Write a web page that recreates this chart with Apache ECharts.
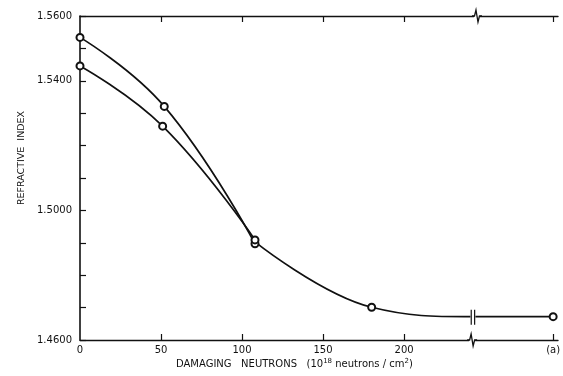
<!DOCTYPE html>
<html>
<head>
<meta charset="utf-8">
<script src="https://cdn.jsdelivr.net/npm/echarts@6/dist/echarts.min.js"></script>
<style>html,body{margin:0;padding:0;background:#fff}#c{width:563px;height:376px}</style>
</head>
<body>
<div id="c"></div>
<script>
// ---- data ----
const upperX = [0, 52, 108];
const upperY = [1.5534, 1.5321, 1.4897];
const lowerX = [0, 51, 108];
const lowerY = [1.5446, 1.5260, 1.4909];
const tailX = [108, 180, 242.5, 292];
const tailY = [1.4903, 1.4701, 1.4672, 1.4672];
const tailMarker = [false, true, false, true];
const xTickValues = [50, 100, 150, 200, 292];
const xLabelValues = [0, 50, 100, 150, 200, 292];
const xLabelText = ['0', '50', '100', '150', '200', '(a)'];
const yTickValues = [1.46, 1.47, 1.48, 1.49, 1.50, 1.51, 1.52, 1.53, 1.54, 1.55, 1.56];
const yLabelValues = [1.46, 1.50, 1.54, 1.56];
// break markers: [x, y, kind]  kind 0 = bottom axis, 1 = top axis, 2 = curve
const breakMarks = [[242, 1.46, 0], [245, 1.56, 1], [242.5, 1.4672, 2]];

const INK = '#111';
const FONT = 'DejaVu Sans';

function pairs(xs, ys) { return xs.map((x, i) => [x, ys[i]]); }

const chart = echarts.init(document.getElementById('c'), null, {renderer: 'canvas'});
const axisCommon = {
  type: 'value', min: 0, max: 295,
  splitLine: {show: false}
};
chart.setOption({
  animation: false,
  backgroundColor: '#fff',
  grid: {left: 80, right: 5, top: 16, bottom: 36, outerBoundsMode: 'none'},
  title: {
    left: 176, top: 358, padding: 0,
    text: '{a|DAMAGING   NEUTRONS   (10}{s|18}{a| neutrons / cm}{s|2}{a|)}',
    textStyle: {
      fontWeight: 'normal',
      rich: {
        a: {fontFamily: FONT, fontSize: 10, fontWeight: 'normal', color: INK},
        s: {fontFamily: FONT, fontSize: 7, fontWeight: 'normal', color: INK, verticalAlign: 'top', padding: [0, 0, 6, 0]}
      }
    }
  },
  graphic: [{
    type: 'text', x: 22, y: 158, rotation: Math.PI / 2,
    style: {text: 'REFRACTIVE  INDEX', font: '9.5px "DejaVu Sans"', fill: INK,
            align: 'center', verticalAlign: 'middle'}
  }],
  xAxis: [
    Object.assign({}, axisCommon, {
      position: 'bottom',
      axisLine: {lineStyle: {color: INK, width: 1.4}},
      axisTick: {inside: true, length: 6, customValues: xTickValues, lineStyle: {color: INK, width: 1.2}},
      axisLabel: {customValues: xLabelValues, margin: 5, fontFamily: FONT, fontSize: 10, color: INK,
                  formatter: v => xLabelText[xLabelValues.indexOf(v)] ?? ''}
    }),
    Object.assign({}, axisCommon, {
      position: 'top',
      axisLine: {lineStyle: {color: INK, width: 1.4}},
      axisTick: {inside: true, length: 6, customValues: xTickValues, lineStyle: {color: INK, width: 1.2}},
      axisLabel: {show: false}
    })
  ],
  yAxis: {
    type: 'value', min: 1.46, max: 1.56,
    splitLine: {show: false},
    axisLine: {show: true, lineStyle: {color: INK, width: 1.6}},
    axisTick: {inside: true, length: 6, customValues: yTickValues, lineStyle: {color: INK, width: 1.2}},
    axisLabel: {customValues: yLabelValues, margin: 8, fontFamily: FONT, fontSize: 10, color: INK,
                formatter: v => v.toFixed(4)}
  },
  series: [
    {
      type: 'line', smooth: 0.45, data: pairs(upperX, upperY),
      symbol: 'emptyCircle', symbolSize: 7, showAllSymbol: true,
      lineStyle: {color: INK, width: 1.7}, itemStyle: {color: INK, borderWidth: 1.2}, z: 3
    },
    {
      type: 'line', smooth: 0.45, data: pairs(lowerX, lowerY),
      symbol: 'emptyCircle', symbolSize: 7, showAllSymbol: true,
      lineStyle: {color: INK, width: 1.7}, itemStyle: {color: INK, borderWidth: 1.2}, z: 3
    },
    {
      type: 'line', smooth: 0.4,
      data: tailX.map((x, i) => ({value: [x, tailY[i]], symbol: tailMarker[i] ? 'emptyCircle' : 'none'})),
      symbolSize: 7, showAllSymbol: true,
      lineStyle: {color: INK, width: 1.7}, itemStyle: {color: INK, borderWidth: 1.2}, z: 2
    },
    {
      type: 'custom', silent: true, clip: false, z: 10,
      data: breakMarks,
      encode: {x: 0, y: 1},
      renderItem: function (params, api) {
        const p = api.coord([api.value(0), api.value(1)]);
        const kind = api.value(2);
        const x = p[0], y = p[1];
        if (kind === 2) {
          return {type: 'group', children: [
            {type: 'rect', shape: {x: x - 2.5, y: y - 2.5, width: 5, height: 5}, style: {fill: '#fff'}},
            {type: 'line', shape: {x1: x - 1.7, y1: y - 7, x2: x - 1.7, y2: y + 8}, style: {stroke: INK, lineWidth: 1.2}},
            {type: 'line', shape: {x1: x + 1.7, y1: y - 7, x2: x + 1.7, y2: y + 8}, style: {stroke: INK, lineWidth: 1.2}}
          ]};
        }
        return {type: 'group', children: [
          {type: 'rect', shape: {x: x - 3, y: y - 2, width: 6, height: 4}, style: {fill: '#fff'}},
          {type: 'polyline', shape: {points: [[x - 5, y], [x - 2.5, y], [x - 1, y - 6], [x + 1, y + 6], [x + 2.5, y], [x + 5, y]]},
           style: {stroke: INK, lineWidth: 1.3, fill: null}}
        ]};
      }
    }
  ]
});
</script>
</body>
</html>
